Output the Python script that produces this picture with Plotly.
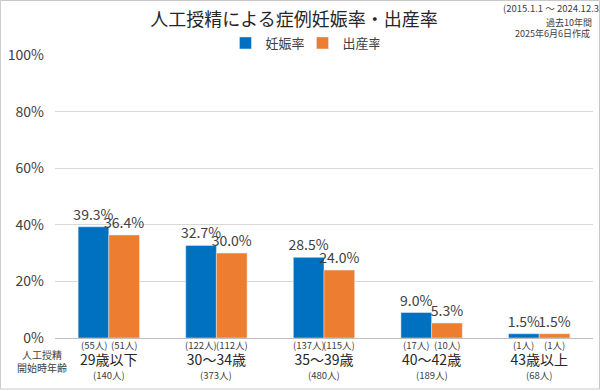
import plotly.graph_objects as go

categories = ["29歳以下", "30～34歳", "35～39歳", "40～42歳", "43歳以上"]
totals = ["(140人)", "(373人)", "(480人)", "(189人)", "(68人)"]
pregnancy_rate = [0.393, 0.327, 0.285, 0.090, 0.015]
birth_rate = [0.364, 0.300, 0.240, 0.053, 0.015]
pregnancy_counts = ["(55人)", "(122人)", "(137人)", "(17人)", "(1人)"]
birth_counts = ["(51人)", "(112人)", "(115人)", "(10人)", "(1人)"]
y_ticks = [0, 0.2, 0.4, 0.6, 0.8, 1.0]

FONT = "Noto Sans CJK JP"
BLUE = "#0070C0"
ORANGE = "#ED7D31"
TXT = "#404040"

x_idx = list(range(len(categories)))

fig = go.Figure()
fig.add_trace(go.Bar(
    name="妊娠率", x=x_idx, y=pregnancy_rate, marker_color=BLUE,
    texttemplate="%{y:.1%}", textposition="outside", cliponaxis=False, constraintext="none",
    textfont=dict(size=14, color=TXT, family=FONT),
))
fig.add_trace(go.Bar(
    name="出産率", x=x_idx, y=birth_rate, marker_color=ORANGE,
    texttemplate="%{y:.1%}", textposition="outside", cliponaxis=False, constraintext="none",
    textfont=dict(size=14, color=TXT, family=FONT),
))

annotations = []
off = 0.142
for i in x_idx:
    annotations.append(dict(x=i - off, y=0, xref="x", yref="y", text=pregnancy_counts[i],
                            showarrow=False, yanchor="top", yshift=2, font=dict(size=9.5, color=TXT, family=FONT)))
    annotations.append(dict(x=i + off, y=0, xref="x", yref="y", text=birth_counts[i],
                            showarrow=False, yanchor="top", yshift=2, font=dict(size=9.5, color=TXT, family=FONT)))
    annotations.append(dict(x=i, y=(338 - 375) / 283, xref="x", yref="paper", text=totals[i],
                            showarrow=False, yanchor="middle", font=dict(size=9.5, color=TXT, family=FONT)))

annotations.append(dict(x=(42 - 55) / 537, y=(338 - 361) / 283, xref="paper", yref="paper",
                        text="人工授精<br>開始時年齢", showarrow=False, xanchor="center", yanchor="middle",
                        align="center", font=dict(size=10, color=TXT, family=FONT)))
annotations.append(dict(x=(500 - 55) / 537, y=(338 - 8) / 283, xref="paper", yref="paper",
                        text="(2015.1.1 ～ 2024.12.31)", showarrow=False, xanchor="left", yanchor="middle",
                        font=dict(size=9.5, color=TXT, family=FONT)))
annotations.append(dict(x=(593 - 55) / 537, y=(338 - 22) / 283, xref="paper", yref="paper",
                        text="過去10年間", showarrow=False, xanchor="right", yanchor="middle",
                        font=dict(size=9, color=TXT, family=FONT)))
annotations.append(dict(x=(591 - 55) / 537, y=(338 - 34) / 283, xref="paper", yref="paper",
                        text="2025年6月6日作成", showarrow=False, xanchor="right", yanchor="middle",
                        font=dict(size=9, color=TXT, family=FONT)))

fig.update_layout(
    width=600, height=391,
    margin=dict(l=55, r=7, t=55, b=53, autoexpand=False),
    paper_bgcolor="white", plot_bgcolor="white",
    barmode="group", bargap=0.43, bargroupgap=0,
    font=dict(family=FONT, color=TXT),
    title=dict(text="人工授精による症例妊娠率・出産率", x=294 / 600, y=1 - 20 / 391,
               xanchor="center", yanchor="middle",
               font=dict(size=18, color="#262626", family=FONT)),
    legend=dict(orientation="h", x=(302 - 55) / 537, y=(338 - 43) / 283, xanchor="center",
                yanchor="middle", font=dict(size=13, color=TXT, family=FONT),
                itemwidth=30, entrywidth=32, entrywidthmode="pixels"),
    annotations=annotations,
    shapes=[dict(type="rect", xref="paper", yref="paper",
                 x0=(0.5 - 55) / 537, x1=(598.5 - 55) / 537,
                 y0=(338 - 389) / 283, y1=(338 - 0.5) / 283,
                 line=dict(color="#c8c8c8", width=1), fillcolor="rgba(0,0,0,0)", layer="below")],
)
fig.update_xaxes(
    tickmode="array", tickvals=x_idx, ticktext=categories, range=[-0.5, 4.5],
    showgrid=False, showline=True, linecolor="#bfbfbf", linewidth=1, zeroline=False,
    ticks="", tickfont=dict(size=14, color="#262626", family=FONT), ticklabelstandoff=9,
    automargin=False,
)
fig.update_yaxes(
    range=[0, 1], tickvals=y_ticks, tickformat=".0%",
    showgrid=True, gridcolor="#d9d9d9", gridwidth=1, zeroline=False, showline=False,
    tickfont=dict(size=14, color=TXT, family=FONT), ticklabelstandoff=10,
    automargin=False,
)

fig.write_html("out.html", config={"displayModeBar": False},
               post_script="document.body.style.margin='0';document.body.style.overflow='hidden';")
